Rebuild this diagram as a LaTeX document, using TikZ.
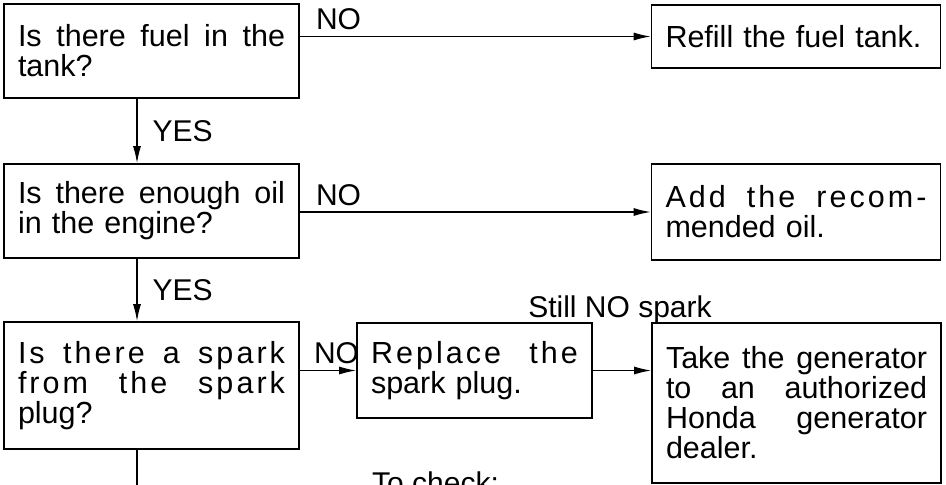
\documentclass[tikz,border=0pt]{standalone}
\usepackage{fontspec}
\setmainfont{Liberation Sans}
\usetikzlibrary{arrows.meta}

\newcommand\boxfont{\fontsize{30.5}{30}\selectfont}
\newcommand\tagfont{\fontsize{30}{30}\selectfont}
\newcommand\jline[2]{\makebox[#1pt][l]{#2}}
\newcommand\spread[1]{{\addfontfeature{LetterSpace=10}#1}}

\begin{document}
\begin{tikzpicture}[x=1pt, y=-1pt, >={Latex[length=17pt,width=8pt]},
  box/.style={draw, line width=1.6pt, inner xsep=14pt, inner ysep=0pt,
    align=left, font=\boxfont},
  link/.style={->, line width=1.3pt},
  tag/.style={font=\tagfont, inner sep=0pt, anchor=base west}]
  \def\qw{267}   % text width, question boxes
  \def\rw{261}   % text width, right boxes
  \def\pw{207}   % text width, spark plug box
  \useasboundingbox (0,0) rectangle (946,485);

  % ----- questions -----
  \node[box, text width=\qw pt, minimum height=94pt] (fuel) at (151.5,51)
    {\jline{\qw}{Is\hfill there\hfill fuel\hfill in\hfill the}\\ tank?};
  \node[box, text width=\qw pt, minimum height=94pt] (oil) at (151.5,211)
    {\jline{\qw}{Is\hfill there\hfill enough\hfill oil}\\ in the engine?};
  \node[box, text width=\qw pt, minimum height=127pt] (spark) at (151.5,385.5)
    {\jline{\qw}{\spread{Is}\hfill\spread{there}\hfill\spread{a}\hfill\spread{spark}}\\
     \jline{\qw}{\spread{from}\hfill\spread{the}\hfill\spread{spark}}\\ plug?};

  % ----- remedies -----
  \node[box, text width=\rw pt, minimum height=63pt] (refill) at (796,36.5)
    {Refill the fuel tank.};
  \node[box, text width=\rw pt, minimum height=96pt] (addoil) at (796,212)
    {\jline{\rw}{\spread{Add}\hfill\spread{the}\hfill\spread{recom-}}\\ mended oil.};
  \node[box, text width=\pw pt, minimum height=95pt] (replace) at (474.5,370.5)
    {\jline{\pw}{\spread{Replace}\hfill\spread{the}}\\ spark plug.};
  \node[box, text width=\rw pt, minimum height=160pt] (dealer) at (796.5,403)
    {\jline{\rw}{Take\hfill the\hfill generator}\\
     \jline{\rw}{to\hfill an\hfill authorized}\\
     \jline{\rw}{Honda\hfill generator}\\ dealer.};

  % ----- YES path -----
  \coordinate (col) at (137,0);
  \coordinate (down) at (137,490);
  \draw[link] (fuel.south -| col) -- (oil.north -| col)
    node[tag, pos=.5, anchor=west, xshift=15pt] (yes1) {YES};
  \draw[link] (oil.south -| col) -- (spark.north -| col)
    node[tag, pos=.5, anchor=west, xshift=15pt] (yes2) {YES};
  \draw[line width=1.3pt] (spark.south -| col) -- (down);

  % ----- NO path -----
  \draw[link] (fuel.east |- refill.west) -- (refill.west);
  \node[tag, xshift=16pt, yshift=7pt] (no1) at (fuel.east |- refill.west) {NO};
  \draw[link] (oil.east |- addoil.west) -- (addoil.west);
  \node[tag, xshift=16pt, yshift=7pt] (no2) at (oil.east |- addoil.west) {NO};
  \draw[link] (spark.east |- replace.west) -- (replace.west);
  \node[tag, xshift=14pt, yshift=7pt] (no3) at (spark.east |- replace.west) {NO};
  \draw[link] (replace.east) -- (replace.east -| dealer.west);
  \node[tag, anchor=base] (still) at (620,317) {Still NO spark};

  \node[tag] (check) at (372,493) {To check:};
\end{tikzpicture}
\end{document}
